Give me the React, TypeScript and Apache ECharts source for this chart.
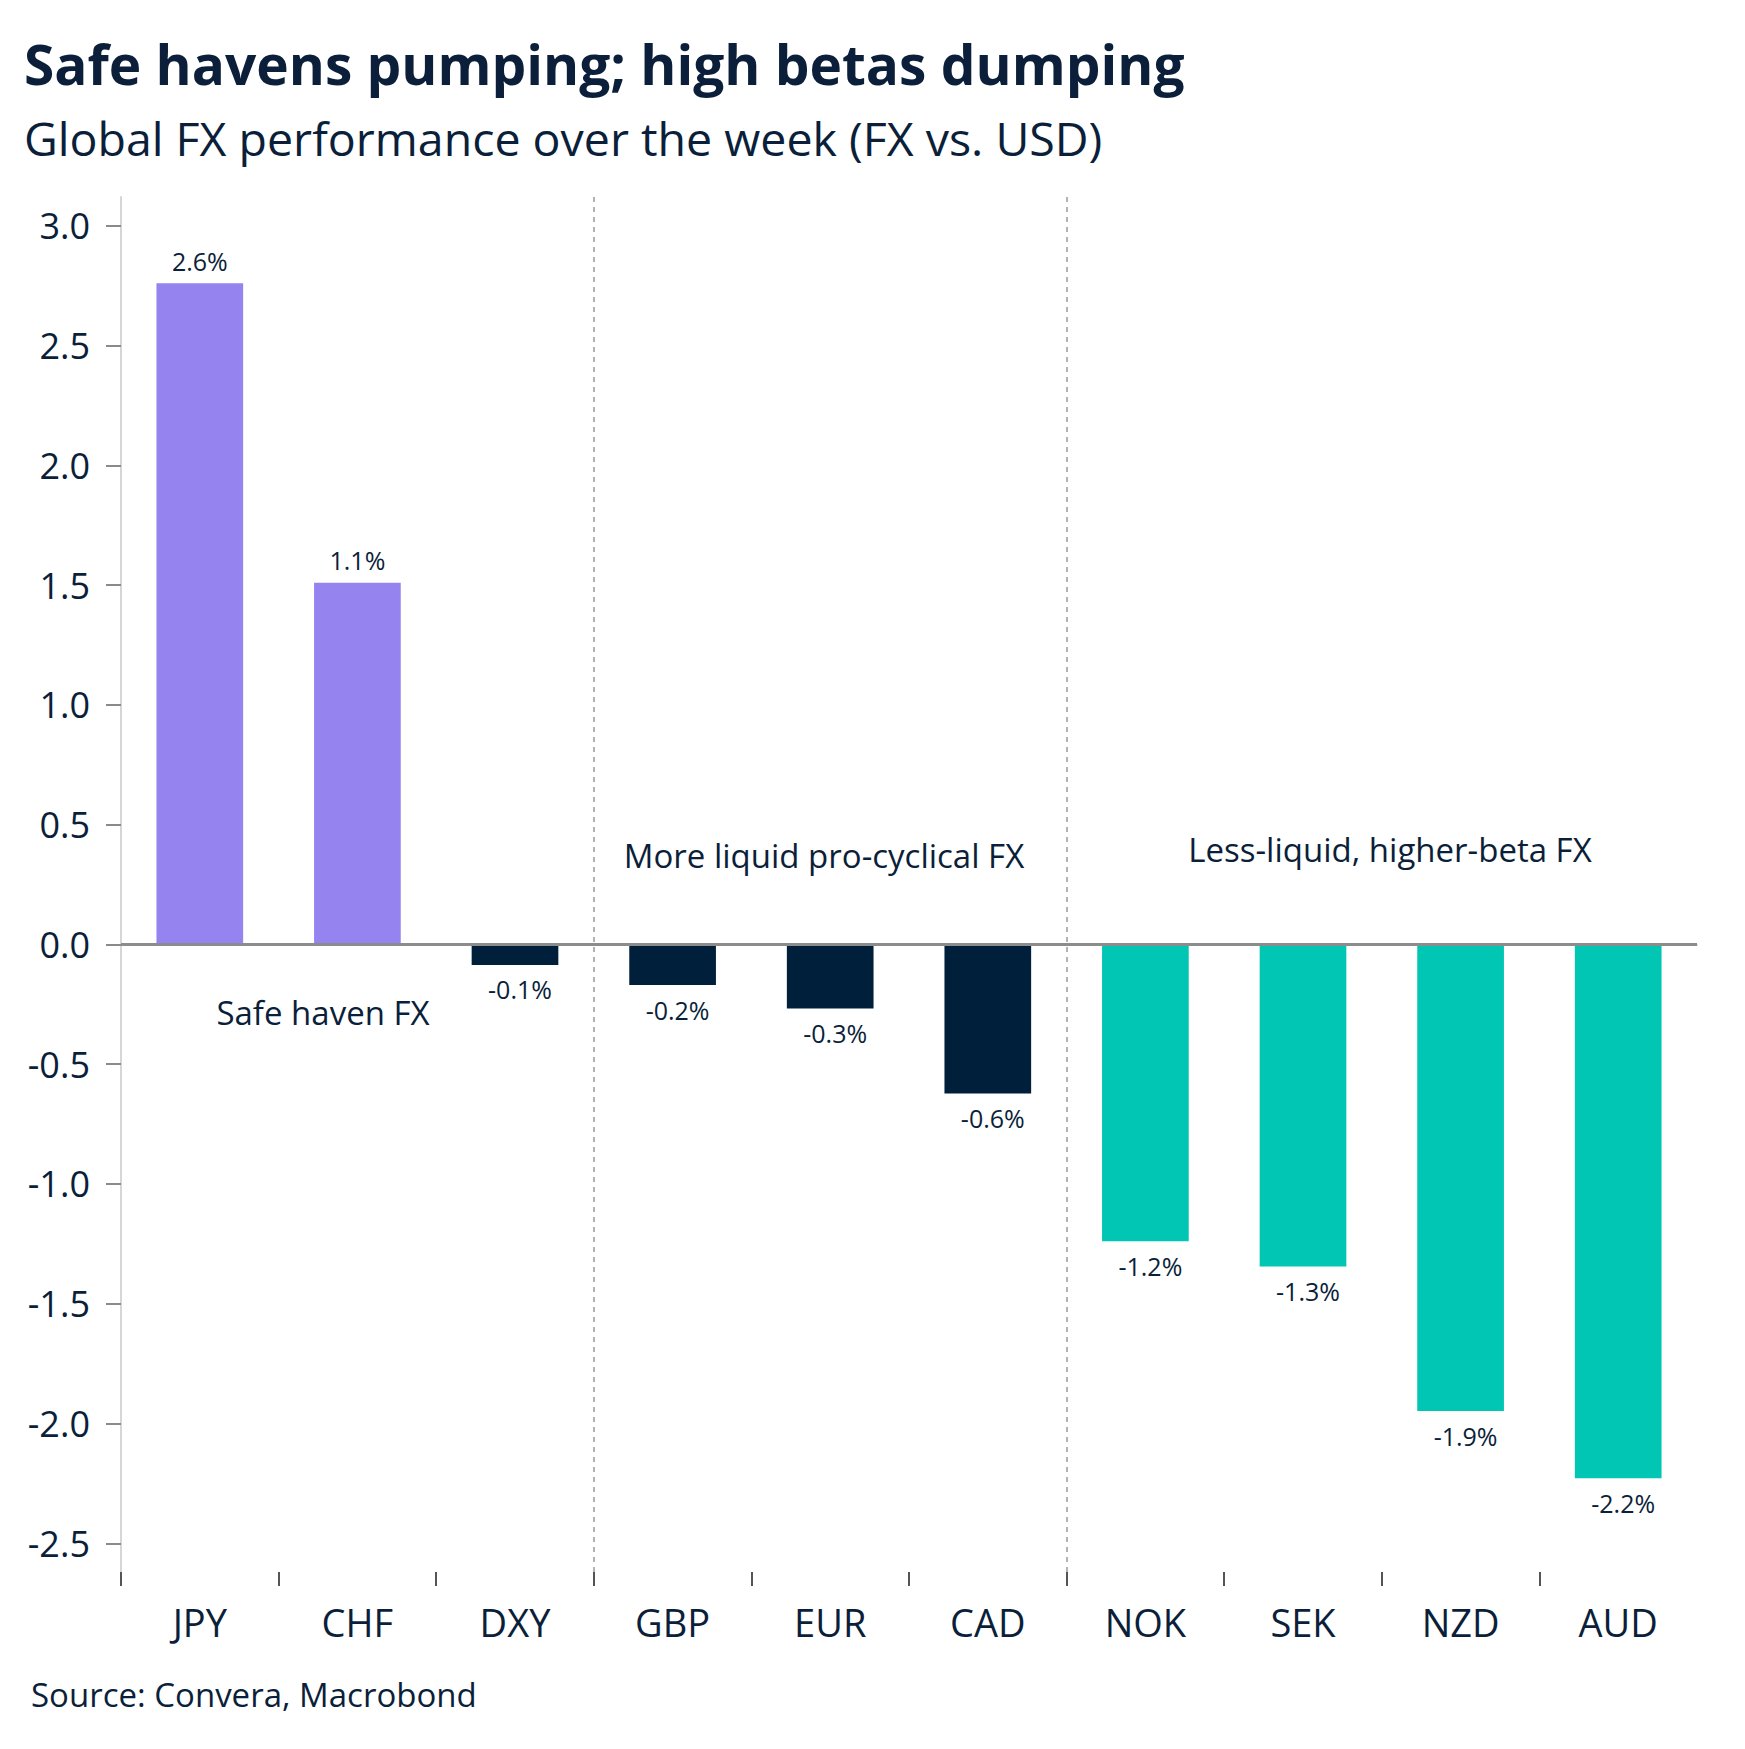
import React, { useEffect, useRef } from "react";
import * as echarts from "echarts";

const categories = ["JPY", "CHF", "DXY", "GBP", "EUR", "CAD", "NOK", "SEK", "NZD", "AUD"];
const barValues = [2.76, 1.51, -0.086, -0.17, -0.268, -0.623, -1.239, -1.345, -1.948, -2.229];
const barLabels = ["2.6%", "1.1%", "-0.1%", "-0.2%", "-0.3%", "-0.6%", "-1.2%", "-1.3%", "-1.9%", "-2.2%"];
const groupOf = [0, 0, 1, 1, 1, 1, 2, 2, 2, 2];
const groupColors = ["#9583EF", "#001F3A", "#00C6B3"];
const groupNames = ["Safe haven FX", "More liquid pro-cyclical FX", "Less-liquid, higher-beta FX"];
const groupBoundaries = [3, 6];
const yTicks = [-2.5, -2.0, -1.5, -1.0, -0.5, 0.0, 0.5, 1.0, 1.5, 2.0, 2.5, 3.0];
const yMin = -2.62;
const yMax = 3.12;

const FONT = "'Open Sans', 'Noto Sans', sans-serif";
const TEXT = "#0b1f3a";

export default function App() {
  const ref = useRef<HTMLDivElement>(null);
  useEffect(() => {
    document.body.style.margin = "0";
    const chart = echarts.init(ref.current!, undefined, { renderer: "svg" });
    const option = {
      animation: false,
      backgroundColor: "#ffffff",
      textStyle: { fontFamily: FONT, color: TEXT },
      grid: { left: 121, right: 48, top: 197, bottom: 177, containLabel: false },
      xAxis: [
        {
          type: "category",
          data: categories,
          boundaryGap: true,
          axisLine: { show: true, lineStyle: { color: "#d6d6d6", width: 2 } },
          axisTick: { show: false },
          axisLabel: { color: TEXT, fontSize: 38, fontFamily: FONT, margin: 31 },
        },
        {
          type: "value",
          min: 0,
          max: categories.length,
          position: "bottom",
          show: true,
          axisLine: { show: false },
          axisLabel: { show: false },
          splitLine: { show: false },
          axisTick: {
            show: true,
            length: 14,
            customValues: categories.map((_, i) => i),
            lineStyle: { color: "#555555", width: 2 },
          },
        },
      ],
      yAxis: {
        type: "value",
        min: yMin,
        max: yMax,
        axisLine: { show: true, lineStyle: { color: "#d6d6d6", width: 2 } },
        axisTick: {
          show: true,
          length: 15,
          customValues: yTicks,
          lineStyle: { color: "#8a8a8a", width: 2 },
        },
        axisLabel: {
          customValues: yTicks,
          color: TEXT,
          fontSize: 36,
          fontFamily: FONT,
          margin: 31,
          formatter: (v: number) => v.toFixed(1),
        },
        splitLine: { show: false },
      },
      series: [
        {
          type: "bar",
          xAxisIndex: 0,
          barWidth: "55%",
          data: barValues.map((v, i) => ({
            value: v,
            itemStyle: { color: groupColors[groupOf[i]] },
            label: {
              position: v >= 0 ? "top" : "bottom",
              distance: v >= 0 ? 10 : 12,
              offset: v >= 0 ? [0, 0] : [5, 0],
            },
          })),
          label: {
            show: true,
            fontSize: 25,
            fontFamily: FONT,
            color: TEXT,
            formatter: (p: any) => barLabels[p.dataIndex],
          },
          markLine: {
            silent: true,
            symbol: "none",
            label: { show: false },
            lineStyle: { color: "#8c8c8c", width: 3, type: "solid" },
            data: [{ yAxis: 0 }],
          },
        },
        {
          type: "scatter",
          xAxisIndex: 1,
          symbolSize: 0,
          data: [],
          markLine: {
            silent: true,
            symbol: "none",
            label: { show: false },
            lineStyle: { color: "#9a9a9a", width: 1.5, type: [5, 5] },
            data: groupBoundaries.map((b) => ({ xAxis: b })),
          },
        },
      ],
      graphic: [
        {
          type: "text",
          left: 24,
          top: 36,
          style: { text: "Safe havens pumping; high betas dumping", fontSize: 55, fontWeight: "bold", fontFamily: FONT, fill: "#0b1f3a" },
        },
        {
          type: "text",
          left: 24,
          top: 114,
          style: { text: "Global FX performance over the week (FX vs. USD)", fontSize: 46.5, fontFamily: FONT, fill: TEXT },
        },
        {
          type: "text",
          x: 323,
          y: 1012,
          style: { text: groupNames[0], fontSize: 33, fontFamily: FONT, fill: TEXT, align: "center", verticalAlign: "middle" },
        },
        {
          type: "text",
          x: 824,
          y: 855,
          style: { text: groupNames[1], fontSize: 33, fontFamily: FONT, fill: TEXT, align: "center", verticalAlign: "middle" },
        },
        {
          type: "text",
          x: 1390,
          y: 849,
          style: { text: groupNames[2], fontSize: 33, fontFamily: FONT, fill: TEXT, align: "center", verticalAlign: "middle" },
        },
        {
          type: "text",
          x: 31,
          y: 1694,
          style: { text: "Source: Convera, Macrobond", fontSize: 33, fontFamily: FONT, fill: TEXT, align: "left", verticalAlign: "middle" },
        },
      ],
    };
    chart.setOption(option as any);
    return () => chart.dispose();
  }, []);
  return <div ref={ref} style={{ width: 1745, height: 1749 }} />;
}
